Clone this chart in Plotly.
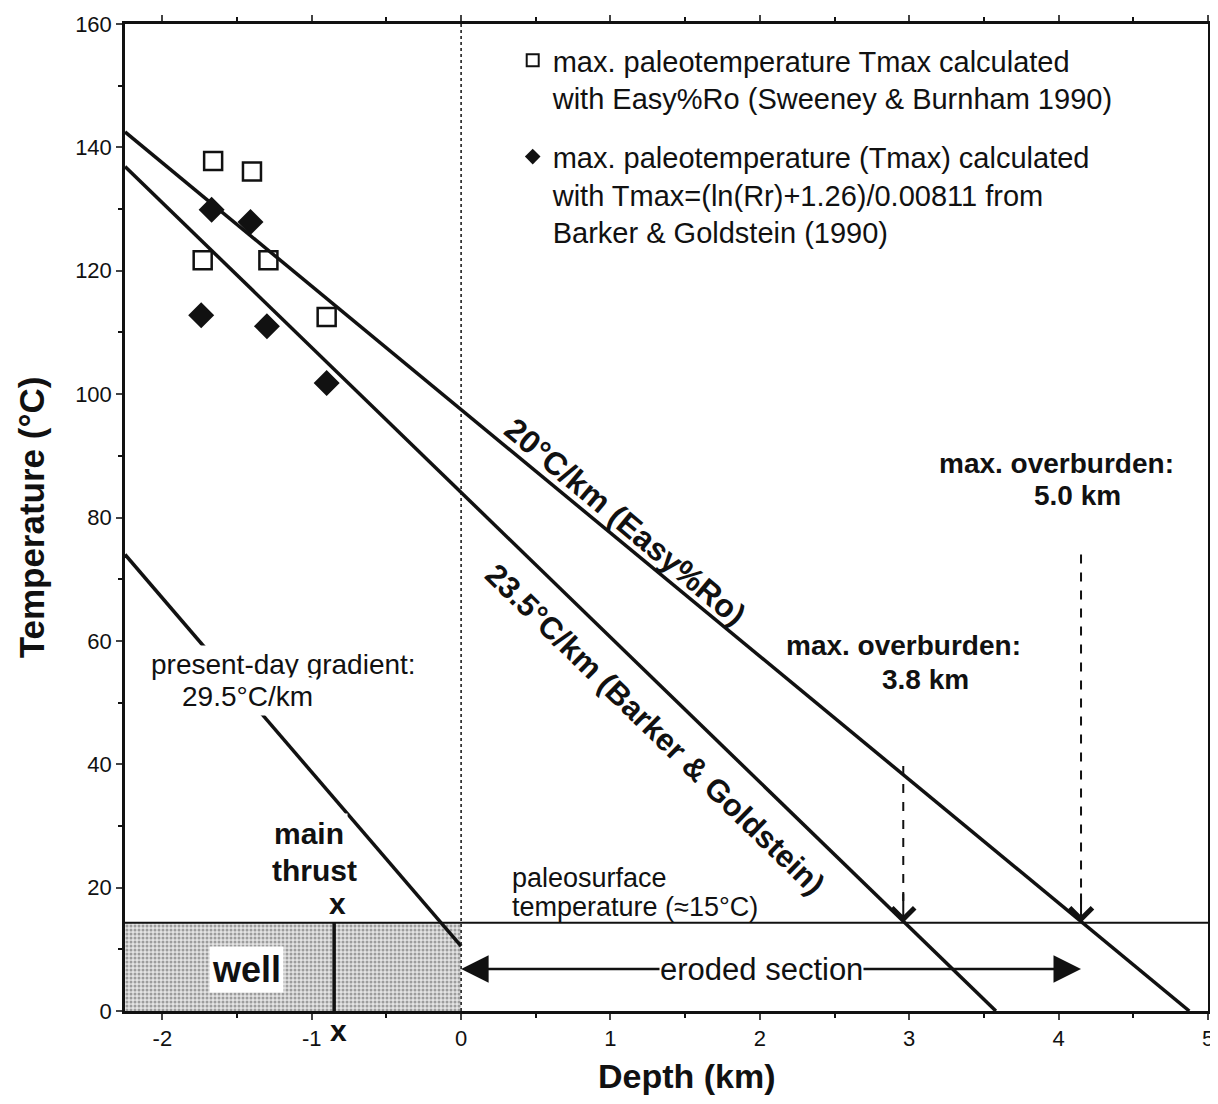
import plotly.graph_objects as go

# ---------------- data ----------------
easy_depth = [-1.66, -1.40, -1.73, -1.29, -0.90]
easy_tmax = [137.8, 136.1, 121.7, 121.7, 112.5]
bg_depth = [-1.67, -1.41, -1.74, -1.30, -0.90]
bg_tmax = [129.9, 127.9, 112.8, 111.0, 101.8]

grad20_depth = [-2.25, 4.875]
grad20_temp = [142.5, 0.0]
grad235_depth = [-2.25, 3.58]
grad235_temp = [136.9, 0.0]
present_depth = [-2.25, 0.0]
present_temp = [74.0, 10.5]

paleosurface_T = 14.3
x_range = [-2.25, 5]
y_range = [0, 160]
x_tickvals = [-2, -1, 0, 1, 2, 3, 4, 5]
x_ticktext = ["-2", "-1", "0", "1", "2", "3", "4", "5"]
well_depth = [-2.25, 0.0]
thrust_depth = -0.85
overburden_depths = [2.96, 4.15]
overburden_tops = [39.7, 74.0]
eroded_T = 6.8

FONT = "Liberation Sans, Arial, Helvetica, sans-serif"
BLACK = "#111111"

fig = go.Figure()

# well shaded area
fig.add_trace(go.Scatter(
    x=[well_depth[0], well_depth[1], well_depth[1], well_depth[0], well_depth[0]],
    y=[0, 0, paleosurface_T, paleosurface_T, 0],
    fill="toself", mode="lines", line=dict(width=0, color="rgba(0,0,0,0)"),
    fillcolor="#d0d0d0",
    fillpattern=dict(shape=".", fgcolor="#555555", bgcolor="#e3e3e3", size=4, solidity=0.45),
    showlegend=False, hoverinfo="skip"))

# paleosurface horizontal line
fig.add_trace(go.Scatter(x=x_range, y=[paleosurface_T, paleosurface_T], mode="lines",
                         line=dict(color=BLACK, width=2), showlegend=False, hoverinfo="skip"))
# dotted line at depth 0
fig.add_trace(go.Scatter(x=[0, 0], y=y_range, mode="lines",
                         line=dict(color=BLACK, width=1.5, dash="dot"), showlegend=False, hoverinfo="skip"))
# thrust line in well
fig.add_trace(go.Scatter(x=[thrust_depth, thrust_depth], y=[0, paleosurface_T], mode="lines",
                         line=dict(color=BLACK, width=3.5), showlegend=False, hoverinfo="skip"))

# gradients
for xs, ys in [(grad20_depth, grad20_temp), (grad235_depth, grad235_temp), (present_depth, present_temp)]:
    fig.add_trace(go.Scatter(x=xs, y=ys, mode="lines", line=dict(color=BLACK, width=3.5),
                             showlegend=False, hoverinfo="skip"))

# dashed overburden lines
for d, t in zip(overburden_depths, overburden_tops):
    fig.add_trace(go.Scatter(x=[d, d], y=[t, paleosurface_T + 3], mode="lines",
                             line=dict(color=BLACK, width=2, dash="dash"), showlegend=False, hoverinfo="skip"))

# data points
fig.add_trace(go.Scatter(
    x=easy_depth, y=easy_tmax, mode="markers", legendgroup="easy",
    marker=dict(symbol="square-open", size=18, color=BLACK, line=dict(width=2.5, color=BLACK)),
    name="max. paleotemperature Tmax calculated<br>with Easy%Ro (Sweeney & Burnham 1990)"))
fig.add_trace(go.Scatter(
    x=bg_depth, y=bg_tmax, mode="markers", legendgroup="barker",
    marker=dict(symbol="diamond", size=20, color=BLACK),
    name="max. paleotemperature (Tmax) calculated<br>with Tmax=(ln(Rr)+1.26)/0.00811 from<br>Barker & Goldstein (1990)"))


def txt(x, y, s, size, bold=False, **kw):
    d = dict(x=x, y=y, xref="x", yref="y", text=("<b>%s</b>" % s) if bold else s, showarrow=False,
             font=dict(family=FONT, size=size, color=BLACK))
    d.update(kw)
    return d


ann = []
# arrows for overburden
for d in overburden_depths:
    ann.append(dict(x=d, y=paleosurface_T, ax=d, ay=paleosurface_T + 5, xref="x", yref="y",
                    axref="x", ayref="y", text="", showarrow=True, arrowhead=4, arrowsize=2.2,
                    arrowwidth=2, arrowcolor=BLACK))
# eroded section double arrow
mid = 2.01
for end in [0.0, overburden_depths[1]]:
    ann.append(dict(x=end, y=eroded_T, ax=mid, ay=eroded_T, xref="x", yref="y",
                    axref="x", ayref="y", text="", showarrow=True, arrowhead=2, arrowsize=2.2,
                    arrowwidth=2.5, arrowcolor=BLACK))
ann.append(txt(mid, eroded_T, "eroded section", 31, bgcolor="white", borderpad=0))

# overburden labels
ann.append(txt(2.96, 59.2, "max. overburden:", 28, True))
ann.append(txt(3.11, 53.8, "3.8 km", 28, True))
ann.append(txt(3.985, 88.8, "max. overburden:", 28, True))
ann.append(txt(4.126, 83.6, "5.0 km", 28, True))

# gradient labels
ann.append(txt(1.10, 79.3, "20°C/km (Easy%Ro)", 32, True, textangle=40))
ann.append(txt(1.30, 45.7, "23.5°C/km (Barker & Goldstein)", 31, True, textangle=44.2))

ann.append(txt(-2.103, 56.2, "present-day gradient:", 28, xanchor="left", bgcolor="white", borderpad=3))
ann.append(txt(-1.896, 51.0, "29.5°C/km", 28, xanchor="left", bgcolor="white", borderpad=3))

ann.append(txt(-1.28, 28.7, "main", 30, True, xanchor="left", bgcolor="white", borderpad=3))
ann.append(txt(-1.28, 22.7, "thrust", 30, True, xanchor="left"))
ann.append(txt(thrust_depth + 0.02, 17.4, "x", 30, True))
ann.append(dict(x=thrust_depth + 0.03, y=-0.0195, xref="x", yref="paper", yanchor="middle", xanchor="center",
                text="<b>x</b>", showarrow=False, font=dict(family=FONT, size=30, color=BLACK)))
ann.append(txt(-1.44, 6.8, "well", 36, True, bgcolor="white", borderpad=2))

ann.append(txt(0.328, 21.6, "paleosurface", 27, xanchor="left"))
ann.append(txt(0.328, 16.8, "temperature (≈15°C)", 27, xanchor="left"))

# axis title for depth (placed as in the original, slightly right of centre)
ann.append(dict(x=0.519, y=-0.066, xref="paper", yref="paper", xanchor="center", yanchor="middle",
                text="<b>Depth (km)</b>", showarrow=False, font=dict(family=FONT, size=34, color=BLACK)))

fig.update_layout(
    width=1210, height=1097,
    margin=dict(l=117, r=10, t=16, b=94, autoexpand=False),
    paper_bgcolor="white", plot_bgcolor="white",
    font=dict(family=FONT, color=BLACK),
    annotations=ann,
    legend=dict(x=0.358, y=0.989, xanchor="left", yanchor="top", valign="top",
                font=dict(family=FONT, size=29, color=BLACK), bgcolor="rgba(0,0,0,0)",
                tracegroupgap=18, itemsizing="constant", traceorder="grouped"),
    showlegend=True,
)
fig.update_xaxes(range=x_range, tickvals=x_tickvals, ticktext=x_ticktext, ticks="outside",
                 ticklen=6, tickwidth=2, automargin=False,
                 showline=True, linewidth=2.5, linecolor=BLACK, mirror="allticks", showgrid=False,
                 zeroline=False, tickfont=dict(family=FONT, size=22, color=BLACK),
                 minor=dict(dtick=0.5, tick0=0, ticks="outside", ticklen=4, tickwidth=2, tickcolor=BLACK))
fig.update_yaxes(range=y_range, dtick=20, ticks="outside", ticklen=6, tickwidth=2, automargin=False,
                 showline=True, linewidth=2.5, linecolor=BLACK, mirror="allticks", showgrid=False,
                 zeroline=False, tickfont=dict(family=FONT, size=22, color=BLACK),
                 minor=dict(dtick=10, ticks="outside", ticklen=4, tickwidth=2, tickcolor=BLACK),
                 title=dict(text="<b>Temperature (°C)</b>", font=dict(family=FONT, size=35, color=BLACK), standoff=20))

fig.write_html("out.html")
